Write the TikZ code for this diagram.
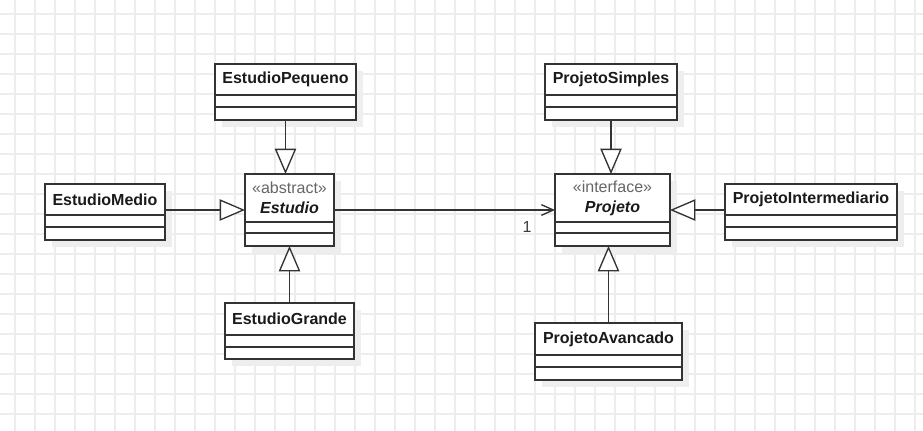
\documentclass[tikz,border=0pt]{standalone}
\usepackage{fontspec}
\setmainfont{Liberation Sans}
\usetikzlibrary{arrows.meta}
\definecolor{gridc}{HTML}{EDEDED}
\definecolor{linec}{HTML}{333333}
\definecolor{shad}{HTML}{EEEEEE}
\definecolor{stereo}{HTML}{666666}
\definecolor{txt}{HTML}{1A1A1A}
\tikzset{
  classbox/.style={draw=linec, fill=white, line width=1pt, inner sep=0pt, outer sep=0pt},
  classline/.style={draw=linec, line width=1pt},
  headtext/.style={text=txt, font=\fontsize{12pt}{14pt}\selectfont\bfseries, align=center, inner sep=0pt},
  inh/.style={draw=linec, line width=1pt, -{Triangle[open, length=19pt, width=16pt, fill=white]}},
  assoc/.style={draw=linec, line width=1pt, -{Straight Barb[length=9pt, width=8pt]}},
  multlabel/.style={text=txt!85, font=\fontsize{12pt}{14pt}\selectfont, inner sep=0pt}
}
\newcommand{\umlclass}[8]{%
  \fill[shad] (#2+7,#3+7) rectangle (#4+7,#5+7);
  \node[classbox, minimum width={(#4-#2)*0.75pt}, minimum height={(#5-#3)*0.75pt}] (#1) at ({(#2+#4)/2},{(#3+#5)/2}) {};
  \draw[classline] (#2,#6) -- (#4,#6) (#2,#7) -- (#4,#7);
  \node[headtext] (#1-h) at ({(#2+#4)/2},{(#3+#6)/2}) {#8};
}
\begin{document}
\begin{tikzpicture}[x=0.75pt, y=-0.75pt]
\useasboundingbox (0,0) rectangle (923,431);
\fill[white] (0,0) rectangle (923,431);
\foreach \x in {15,35,...,915} \draw[gridc, line width=0.9pt] (\x,0) -- (\x,431);
\foreach \y in {14,34,...,414} \draw[gridc, line width=0.9pt] (0,\y) -- (923,\y);

\umlclass{ep}{215}{64}{356}{120}{95}{107}{EstudioPequeno}
\umlclass{es}{245}{174}{334}{246}{222}{233}{{\mdseries\color{stereo}«abstract»}\\[1pt]\textit{Estudio}}
\umlclass{em}{45}{184}{165}{240}{215}{227}{EstudioMedio}
\umlclass{eg}{225}{303}{354}{359}{335}{347}{EstudioGrande}
\umlclass{ps}{545}{64}{677}{120}{95}{107}{ProjetoSimples}
\umlclass{pr}{555}{174}{670}{246}{222}{233}{{\mdseries\color{stereo}«interface»}\\[1pt]\textit{Projeto}}
\umlclass{pi}{725}{184}{897}{240}{215}{227}{ProjetoIntermediario}
\umlclass{pa}{535}{323}{682}{380}{355}{367}{ProjetoAvancado}

\draw[inh] (ep.south) -- (ep.south |- es.north);
\draw[inh] (es.west -| em.east) -- (es.west);
\draw[inh] (eg.north) -- (eg.north |- es.south);
\draw[inh] (ps.south) -- (ps.south |- pr.north);
\draw[inh] (pr.east -| pi.west) -- (pr.east);
\draw[inh] (pa.north) -- (pa.north |- pr.south);
\draw[assoc] (es.east) -- (pr.west);
\node[multlabel] (m1) at (527,227) {1};
\end{tikzpicture}
\end{document}
